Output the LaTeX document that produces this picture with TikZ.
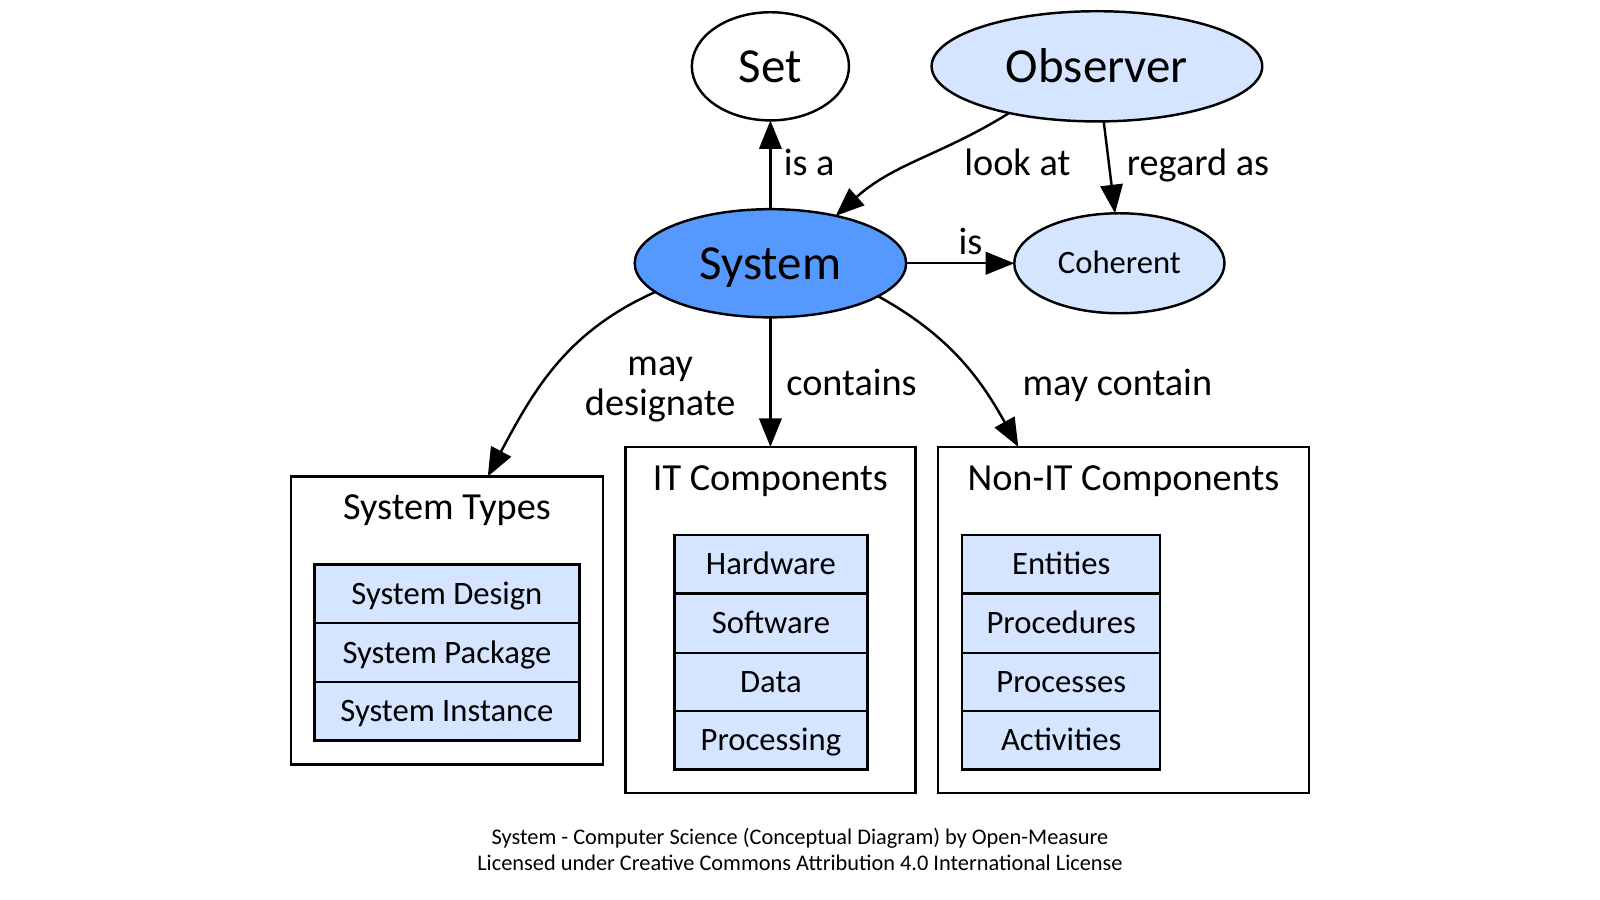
\documentclass[tikz,border=0pt]{standalone}
\usepackage{fontspec}
\setmainfont{Carlito}
\usetikzlibrary{shapes.geometric,arrows.meta}
\definecolor{sysblue}{HTML}{5599FF}
\definecolor{lightblue}{HTML}{D5E5FF}
\begin{document}
\begin{tikzpicture}[x=1pt,y=1pt,
  every node/.style={inner sep=0pt, outer sep=0pt},
  ell/.style={ellipse, draw, line width=2.4pt, text height=31pt, text depth=0pt, font=\fontsize{48}{56}\selectfont},
  lbl/.style={anchor=base, font=\fontsize{37.5}{42}\selectfont},
  frame/.style={draw, line width=2.4pt, rectangle},
  cell/.style={draw, line width=2.4pt, fill=lightblue, rectangle, minimum height=57.5pt, text height=20.6pt, text depth=0pt, font=\fontsize{32}{36}\selectfont},
  conn/.style={line width=2.4pt, -{Triangle[length=28pt,width=22pt]}},
  captext/.style={anchor=base, font=\fontsize{21.9}{24}\selectfont},
]
\useasboundingbox (0,0) rectangle (1568,-882);

% ellipses
\node[ell, fill=white, minimum width=154pt, minimum height=106pt] (set) at (755,-65) {Set};
\node[ell, fill=lightblue, minimum width=324pt, minimum height=108pt] (obs) at (1075,-65) {Observer};
\node[ell, fill=sysblue, minimum width=266pt, minimum height=106pt] (sys) at (755,-258) {System};
\node[ell, fill=lightblue, minimum width=206pt, minimum height=98pt, text height=20.6pt, font=\fontsize{32}{36}\selectfont] (coh) at (1097,-258) {Coherent};

% frames
\node[frame, minimum width=306pt, minimum height=282pt] (types) at (438,-608) {};
\node[frame, minimum width=284pt, minimum height=339pt] (it) at (755,-607.5) {};
\node[frame, minimum width=364pt, minimum height=339pt] (nonit) at (1101,-607.5) {};

\node[lbl] (typest) at (438,-509) {System Types};
\node[lbl] (itt) at (755,-481) {IT Components};
\node[lbl] (nonitt) at (1101,-481) {Non-IT Components};

% cells
\node[cell, minimum width=260pt] (t1) at (438,-582) {System Design};
\node[cell, minimum width=260pt] (t2) at (438,-639.5) {System Package};
\node[cell, minimum width=260pt] (t3) at (438,-697) {System Instance};

\node[cell, minimum width=189pt] (i1) at (755.5,-553) {Hardware};
\node[cell, minimum width=189pt] (i2) at (755.5,-611) {Software};
\node[cell, minimum width=189pt] (i3) at (755.5,-668.5) {Data};
\node[cell, minimum width=189pt] (i4) at (755.5,-725.5) {Processing};

\node[cell, minimum width=194pt] (n1) at (1040,-553) {Entities};
\node[cell, minimum width=194pt] (n2) at (1040,-611) {Procedures};
\node[cell, minimum width=194pt] (n3) at (1040,-668.5) {Processes};
\node[cell, minimum width=194pt] (n4) at (1040,-725.5) {Activities};

% connectors
\draw[conn] (sys.north) -- (set.south);
\draw[conn] (obs.208) to[out=212,in=42] (sys.36);
\draw[conn] (obs.-83) -- (coh.95);
\draw[conn] (sys.east) -- (coh.west);
\draw[conn] (sys.194) to[out=204,in=62] ([xshift=40pt]types.north);
\draw[conn] (sys.south) -- (it.north);
\draw[conn] (sys.-17) to[out=-29,in=119] ([xshift=-103pt]nonit.north);

% labels
\node[lbl] (lisa) at (793,-172) {is a};
\node[lbl] (llook) at (997,-172) {look at};
\node[lbl] (lreg) at (1174,-172) {regard as};
\node[lbl] (lis) at (951,-249) {is};
\node[lbl] (lmay) at (647,-368) {may};
\node[lbl] (ldes) at (647,-407) {designate};
\node[lbl] (lcont) at (834.5,-388) {contains};
\node[lbl] (lmaycont) at (1095,-388) {may contain};

% caption
\node[captext] (cap1) at (784,-828) {System - Computer Science (Conceptual Diagram) by Open-Measure};
\node[captext] (cap2) at (784,-853) {Licensed under Creative Commons Attribution 4.0 International License};
\end{tikzpicture}
\end{document}
